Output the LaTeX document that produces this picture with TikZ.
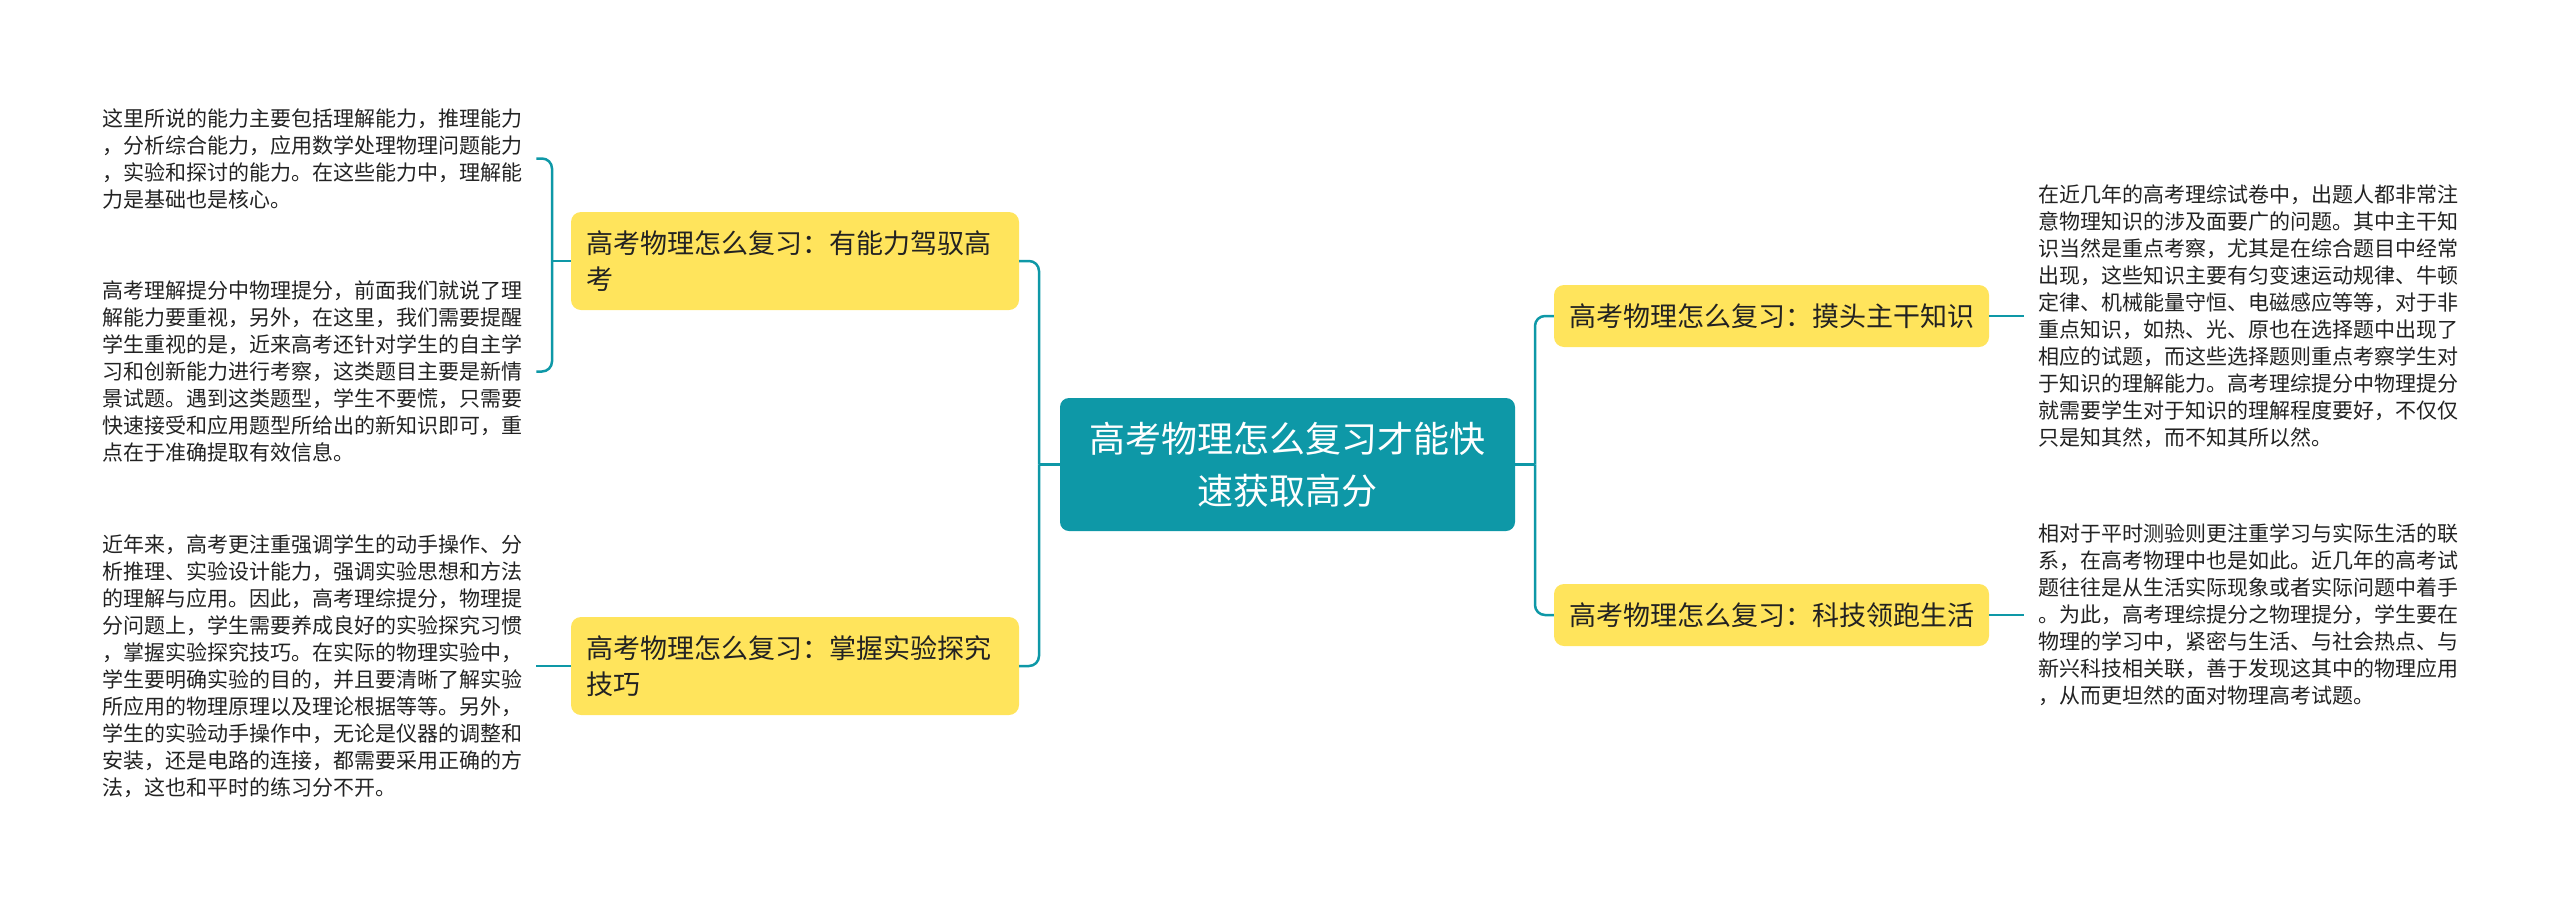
\documentclass[tikz,border=0pt]{standalone}
\usepackage{fontspec}
\setmainfont{Noto Sans CJK SC}
\definecolor{tealc}{RGB}{14,152,167}
\definecolor{yelc}{RGB}{255,228,92}
\definecolor{txtc}{RGB}{34,34,34}
\begin{document}
\begin{tikzpicture}[x=1pt,y=-1pt,
  conn/.style={draw=tealc,line width=2.5pt},
  leaf/.style={font=\fontsize{21}{27}\selectfont, text=txtc, align=left, inner xsep=14pt, inner ysep=0pt, anchor=west},
  sub/.style={fill=yelc, rounded corners=10pt, font=\fontsize{27}{36}\selectfont, text=txtc, align=left, inner xsep=15pt, inner ysep=0pt},
  root/.style={fill=tealc, rounded corners=9pt, text=white, font=\fontsize{36}{52}\selectfont, align=center, minimum width=455pt, minimum height=133pt, inner sep=0pt}
]
\useasboundingbox (0,0) rectangle (2560,903);

\node[root] (c) at (1287.5,464.5) {高考物理怎么复习才能快\\速获取高分};

\node[sub, minimum width=448pt, minimum height=98pt, text width=418pt] (b1) at (795,261) {高考物理怎么复习：有能力驾驭高\\考};
\node[sub, minimum width=448pt, minimum height=98pt, text width=418pt] (b2) at (795,666) {高考物理怎么复习：掌握实验探究\\技巧};
\node[sub, minimum width=435pt, minimum height=62pt] (b3) at (1771.5,316) {高考物理怎么复习：摸头主干知识};
\node[sub, minimum width=435pt, minimum height=62pt] (b4) at (1771.5,615) {高考物理怎么复习：科技领跑生活};

\node[leaf] (l1) at (88,158.5) {这里所说的能力主要包括理解能力，推理能力\\
，分析综合能力，应用数学处理物理问题能力\\
，实验和探讨的能力。在这些能力中，理解能\\
力是基础也是核心。};
\node[leaf] (l2) at (88,371.5) {高考理解提分中物理提分，前面我们就说了理\\
解能力要重视，另外，在这里，我们需要提醒\\
学生重视的是，近来高考还针对学生的自主学\\
习和创新能力进行考察，这类题目主要是新情\\
景试题。遇到这类题型，学生不要慌，只需要\\
快速接受和应用题型所给出的新知识即可，重\\
点在于准确提取有效信息。};
\node[leaf] (l3) at (88,666) {近年来，高考更注重强调学生的动手操作、分\\
析推理、实验设计能力，强调实验思想和方法\\
的理解与应用。因此，高考理综提分，物理提\\
分问题上，学生需要养成良好的实验探究习惯\\
，掌握实验探究技巧。在实际的物理实验中，\\
学生要明确实验的目的，并且要清晰了解实验\\
所应用的物理原理以及理论根据等等。另外，\\
学生的实验动手操作中，无论是仪器的调整和\\
安装，还是电路的连接，都需要采用正确的方\\
法，这也和平时的练习分不开。};
\node[leaf] (l4) at (2024,316) {在近几年的高考理综试卷中，出题人都非常注\\
意物理知识的涉及面要广的问题。其中主干知\\
识当然是重点考察，尤其是在综合题目中经常\\
出现，这些知识主要有匀变速运动规律、牛顿\\
定律、机械能量守恒、电磁感应等等，对于非\\
重点知识，如热、光、原也在选择题中出现了\\
相应的试题，而这些选择题则重点考察学生对\\
于知识的理解能力。高考理综提分中物理提分\\
就需要学生对于知识的理解程度要好，不仅仅\\
只是知其然，而不知其所以然。};
\node[leaf] (l5) at (2024,615) {相对于平时测验则更注重学习与实际生活的联\\
系，在高考物理中也是如此。近几年的高考试\\
题往往是从生活实际现象或者实际问题中着手\\
。为此，高考理综提分之物理提分，学生要在\\
物理的学习中，紧密与生活、与社会热点、与\\
新兴科技相关联，善于发现这其中的物理应用\\
，从而更坦然的面对物理高考试题。};

\coordinate (jr) at (1535,464.5);
\coordinate (jl) at (1039,464.5);
\coordinate (j1) at (552,261);
\draw[conn] (c.east) -- (jr);
\draw[conn, rounded corners=10pt] (jr) |- (b3.west);
\draw[conn, rounded corners=10pt] (jr) |- (b4.west);
\draw[conn] (c.west) -- (jl);
\draw[conn, rounded corners=10pt] (jl) |- (b1.east);
\draw[conn, rounded corners=10pt] (jl) |- (b2.east);
\draw[conn] (b1.west) -- (j1);
\draw[conn, rounded corners=10pt] (j1) |- (l1.east);
\draw[conn, rounded corners=10pt] (j1) |- (l2.east);
\draw[conn] (b2.west) -- (l3.east);
\draw[conn] (b3.east) -- (l4.west);
\draw[conn] (b4.east) -- (l5.west);
\end{tikzpicture}
\end{document}
